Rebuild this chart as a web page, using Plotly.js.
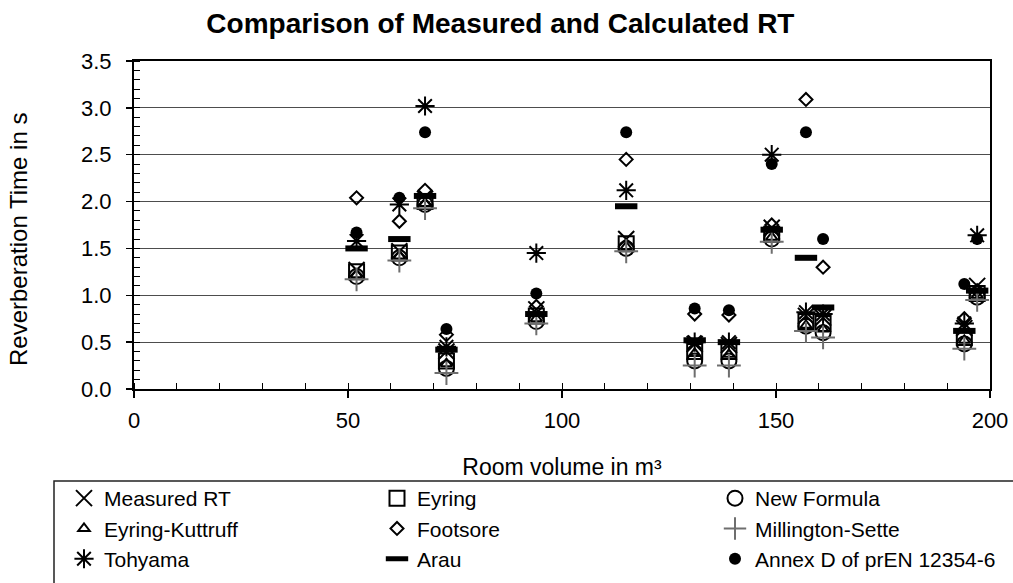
<!DOCTYPE html>
<html>
<head>
<meta charset="utf-8">
<script src="https://cdn.plot.ly/plotly-3.0.1.min.js"></script>
<style>
  html, body { margin: 0; padding: 0; background: #ffffff; }
  #chart { width: 1013px; height: 583px; }
</style>
</head>
<body>
<div id="chart"></div>
<script>
// Room volumes (m³)
const rooms = [52, 62, 68, 73, 94, 115, 131, 139, 149, 157, 161, 194, 197];

// Reverberation times (s)
const measuredRT      = [1.27, 1.47, 2.03, 0.40, 0.85, 1.60, 0.48, 0.47, 1.72, 0.78, 0.76, 0.65, 1.10];
const eyring          = [1.25, 1.45, 2.00, 0.30, 0.78, 1.55, 0.40, 0.40, 1.65, 0.72, 0.70, 0.55, 1.02];
const newFormula      = [1.20, 1.40, 1.97, 0.22, 0.72, 1.50, 0.30, 0.30, 1.60, 0.67, 0.60, 0.48, 0.98];
const eyringKuttruff  = [1.22, 1.42, 1.98, 0.27, 0.75, 1.52, 0.38, 0.37, 1.62, 0.68, 0.64, 0.52, 1.00];
const footsore        = [2.04, 1.79, 2.12, 0.58, 0.88, 2.45, 0.80, 0.79, 1.75, 3.09, 1.30, 0.75, 1.05];
const millingtonSette = [1.17, 1.37, 1.93, 0.17, 0.70, 1.47, 0.25, 0.25, 1.57, 0.62, 0.55, 0.43, 0.95];
const tohyama         = [1.58, 1.97, 3.02, 0.45, 1.45, 2.12, 0.50, 0.50, 2.50, 0.82, 0.80, 0.70, 1.64];
const arau            = [1.50, 1.60, 2.06, 0.42, 0.80, 1.95, 0.52, 0.50, 1.70, 1.40, 0.87, 0.62, 1.05];
const annexD          = [1.67, 2.04, 2.74, 0.64, 1.02, 2.74, 0.86, 0.84, 2.40, 2.74, 1.60, 1.12, 1.60];

const xTickVals = [0, 50, 100, 150, 200];
const yTickVals = [0, 0.5, 1, 1.5, 2, 2.5, 3, 3.5];

const FONT = 'Liberation Sans, Arial, Helvetica, sans-serif';

function tr(name, y, symbol, size, lw, legend, color) {
  const c = color || '#000000';
  return {
    type: 'scatter', mode: 'markers', name: name, x: rooms, y: y,
    legend: legend,
    marker: { symbol: symbol, size: size, color: c, line: { color: c, width: lw } },
    hoverinfo: 'skip'
  };
}

const traces = [
  tr('Measured RT', measuredRT, 'x-thin-open', 16, 2, 'legend'),
  tr('Eyring', eyring, 'square-open', 15, 2, 'legend2'),
  tr('New Formula', newFormula, 'circle-open', 15, 2, 'legend3'),
  tr('Eyring-Kuttruff', eyringKuttruff, 'triangle-up-open', 10, 2, 'legend'),
  tr('Footsore', footsore, 'diamond-open', 10, 2, 'legend2'),
  tr('Millington-Sette', millingtonSette, 'cross-thin-open', 17, 2, 'legend3', '#6e6e6e'),
  tr('Tohyama', tohyama, 'asterisk-open', 16, 2, 'legend'),
  tr('Arau', arau, 'line-ew-open', 16, 6, 'legend2'),
  tr('Annex D of prEN 12354-6', annexD, 'circle', 12, 0, 'legend3')
];

const L = 134, R = 23, T = 61, B = 194;
const W = 1013, H = 583;
const pw = W - L - R, ph = H - T - B;
const px = v => (v - L) / pw;
const py = v => (H - B - v) / ph;

function legendAt(xpx, ytop) {
  return {
    x: px(xpx), xref: 'paper', xanchor: 'left',
    y: py(ytop), yref: 'paper', yanchor: 'top',
    orientation: 'v', bgcolor: 'rgba(0,0,0,0)', borderwidth: 0,
    font: { family: FONT, size: 21, color: '#000' },
    itemwidth: 30, tracegroupgap: 0
  };
}

const layout = {
  width: W, height: H,
  margin: { l: L, r: R, t: T, b: B, autoexpand: false },
  paper_bgcolor: '#ffffff', plot_bgcolor: '#ffffff',
  font: { family: FONT, color: '#000' },
  hovermode: false,
  title: {
    text: 'Comparison of Measured and Calculated RT',
    font: { family: FONT, size: 28, weight: 700, color: '#000' },
    x: 0.494, xref: 'container', xanchor: 'center',
    y: 1 - 23 / H, yref: 'container', yanchor: 'middle'
  },
  xaxis: {
    range: [0, 200], tickvals: xTickVals, ticktext: xTickVals.map(String),
    ticks: 'outside', ticklen: 7, tickwidth: 1.5, tickcolor: '#000',
    minor: { dtick: 10, tick0: 0, ticks: 'inside', ticklen: 6, tickwidth: 1, tickcolor: '#000', showgrid: false },
    showline: true, linewidth: 2, linecolor: '#000', mirror: true,
    showgrid: false, zeroline: false,
    tickfont: { family: FONT, size: 22, color: '#000' },
    ticklabelstandoff: 4,
    title: { text: 'Room volume in m³', font: { family: FONT, size: 23, color: '#000' }, standoff: 26 }
  },
  yaxis: {
    range: [0, 3.5], tickvals: yTickVals, ticktext: yTickVals.map(v => v.toFixed(1)),
    ticks: 'outside', ticklen: 6, tickwidth: 1.5, tickcolor: '#000',
    minor: { dtick: 0.1, tick0: 0, ticks: 'inside', ticklen: 6, tickwidth: 1, tickcolor: '#000', showgrid: false },
    showline: true, linewidth: 2, linecolor: '#000', mirror: true,
    showgrid: true, gridcolor: '#4d4d4d', gridwidth: 1, zeroline: false,
    tickfont: { family: FONT, size: 22, color: '#000' },
    ticklabelstandoff: 10
  },
  annotations: [{
    text: 'Reverberation Time in s', textangle: -90, showarrow: false,
    xref: 'paper', yref: 'paper', x: px(19), y: py(240),
    xanchor: 'center', yanchor: 'middle',
    font: { family: FONT, size: 24, color: '#000' }
  }],
  legend: legendAt(64, 478),
  legend2: legendAt(377, 478),
  legend3: legendAt(715, 478),
  shapes: [{
    type: 'rect', xref: 'paper', yref: 'paper',
    x0: px(54), x1: px(1030), y0: py(481), y1: py(600),
    line: { color: '#222', width: 1.5 }, fillcolor: 'rgba(0,0,0,0)', layer: 'below'
  }]
};

Plotly.newPlot('chart', traces, layout, { displayModeBar: false, staticPlot: true });
</script>
</body>
</html>
